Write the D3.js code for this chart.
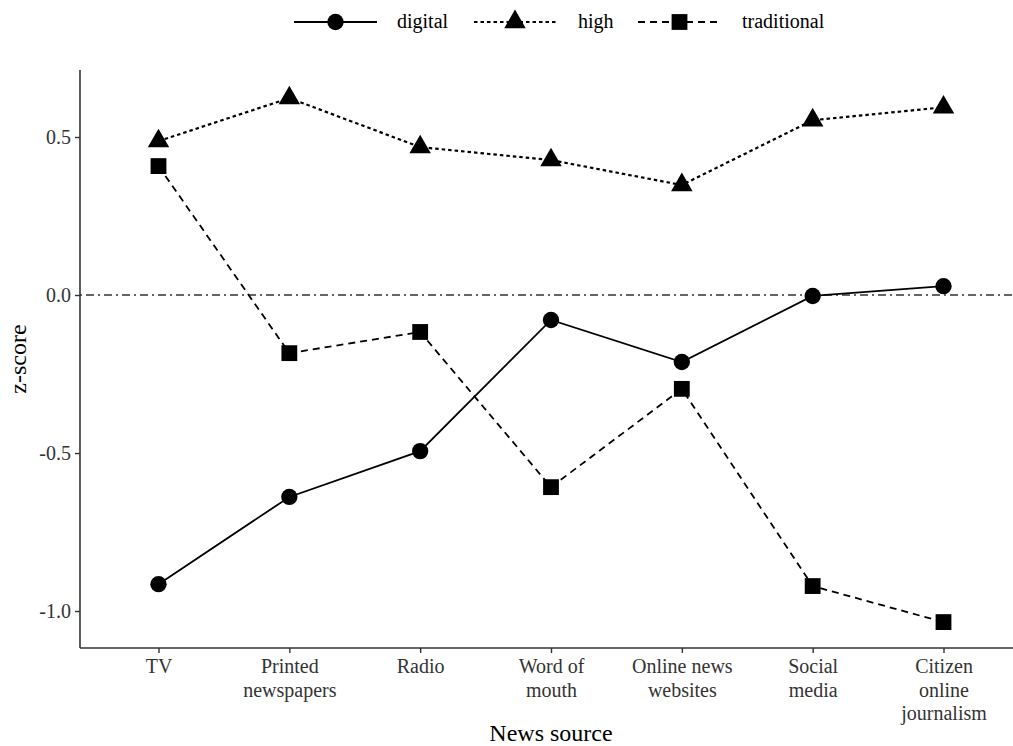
<!DOCTYPE html>
<html lang="en">
<head>
<meta charset="UTF-8">
<title>z-score by news source</title>
<script src="https://d3js.org/d3.v7.min.js"></script>
<style>
  * { margin: 0; padding: 0; }
  body { background: #fff; }
  text { font-family: "Liberation Serif", "DejaVu Serif", serif; }
</style>
</head>
<body>
<script>
var width = 1013, height = 746;

// data
var sources = ['TV', 'Printed newspapers', 'Radio', 'Word of mouth', 'Online news websites', 'Social media', 'Citizen online journalism'];
var sourceLabels = [['TV'], ['Printed', 'newspapers'], ['Radio'], ['Word of', 'mouth'], ['Online news', 'websites'], ['Social', 'media'], ['Citizen', 'online', 'journalism']];
var digital = [-0.915, -0.639, -0.494, -0.079, -0.212, -0.003, 0.028];
var high = [0.487, 0.623, 0.468, 0.427, 0.348, 0.553, 0.594];
var traditional = [0.408, -0.184, -0.117, -0.608, -0.297, -0.921, -1.035];
var yTicks = [-1.0, -0.5, 0.0, 0.5];

var series = [
  { name: 'digital', values: digital, shape: d3.symbolCircle, size: 210, dash: null, lw: 1.8 },
  { name: 'high', values: high, shape: d3.symbolTriangle, size: 200, dash: '3.5,3', lw: 2.2 },
  { name: 'traditional', values: traditional, shape: d3.symbolSquare, size: 250, dash: '7,5', lw: 1.8 }
];

var plotLeft = 80, plotTop = 70, plotBottom = 648, plotRight = 1022;

var svg = d3.select('body').append('svg')
  .attr('width', width)
  .attr('height', height);

var x = d3.scalePoint()
  .domain(sources)
  .range([plotLeft, plotRight])
  .padding(0.6);

var y = d3.scaleLinear()
  .domain([-1.117, 0.712])
  .range([plotBottom, plotTop]);

// zero reference line
svg.append('line')
  .attr('x1', plotLeft).attr('x2', width)
  .attr('y1', y(0)).attr('y2', y(0))
  .attr('stroke', '#333')
  .attr('stroke-width', 1.4)
  .attr('stroke-dasharray', '2,4,8,4');

// axes
var xAxis = svg.append('g')
  .attr('transform', 'translate(0,' + plotBottom + ')')
  .call(d3.axisBottom(x).tickSize(5).tickFormat(''));
var yAxis = svg.append('g')
  .attr('transform', 'translate(' + plotLeft + ',0)')
  .call(d3.axisLeft(y).tickValues(yTicks).tickSize(5)
    .tickFormat(function (d) { return d.toFixed(1); }));

[xAxis, yAxis].forEach(function (g) {
  g.select('.domain').attr('stroke', '#333').attr('stroke-width', 1.6);
  g.selectAll('.tick line').attr('stroke', '#333').attr('stroke-width', 1.4);
});
yAxis.select('.domain').attr('d', 'M0,' + plotTop + 'V' + plotBottom);
xAxis.select('.domain').attr('d', 'M' + plotLeft + ',0H' + width);

yAxis.selectAll('.tick text')
  .attr('x', -9)
  .attr('fill', '#333')
  .style('font-size', '20px')
  .style('font-family', '"Liberation Serif", serif');

// wrapped x labels
xAxis.selectAll('.tick').each(function (d, i) {
  var t = d3.select(this).append('text')
    .attr('fill', '#333')
    .attr('text-anchor', 'middle')
    .style('font-size', '20px');
  sourceLabels[i].forEach(function (s, j) {
    t.append('tspan').attr('x', 0).attr('y', 25 + j * 23.5).text(s);
  });
});

// axis titles
svg.append('text')
  .attr('x', (plotLeft + plotRight) / 2)
  .attr('y', 741)
  .attr('text-anchor', 'middle')
  .style('font-size', '24px')
  .text('News source');
svg.append('text')
  .attr('transform', 'translate(26,' + (plotTop + plotBottom) / 2 + ') rotate(-90)')
  .attr('text-anchor', 'middle')
  .style('font-size', '24px')
  .text('z-score');

// lines and points
var line = d3.line()
  .x(function (d, i) { return x(sources[i]); })
  .y(function (d) { return y(d); });

series.forEach(function (s) {
  svg.append('path')
    .datum(s.values)
    .attr('d', line)
    .attr('fill', 'none')
    .attr('stroke', '#000')
    .attr('stroke-width', s.lw)
    .attr('stroke-dasharray', s.dash);
  svg.selectAll('.pt-' + s.name)
    .data(s.values)
    .enter()
    .append('path')
    .attr('class', 'pt-' + s.name)
    .attr('d', d3.symbol().type(s.shape).size(s.size))
    .attr('transform', function (d, i) {
      return 'translate(' + x(sources[i]) + ',' + y(d) + ')';
    })
    .attr('fill', '#000');
});

// legend
var legendKeys = [
  { x1: 294, x2: 377, tx: 397 },
  { x1: 474, x2: 556, tx: 578 },
  { x1: 638, x2: 721, tx: 742 }
];
var legend = svg.append('g');
series.forEach(function (s, i) {
  var k = legendKeys[i];
  var cy = 22;
  legend.append('line')
    .attr('x1', k.x1).attr('x2', k.x2)
    .attr('y1', cy).attr('y2', cy)
    .attr('stroke', '#000')
    .attr('stroke-width', s.lw)
    .attr('stroke-dasharray', s.dash);
  legend.append('path')
    .attr('d', d3.symbol().type(s.shape).size(s.size)())
    .attr('transform', 'translate(' + (k.x1 + k.x2) / 2 + ',' + cy + ')')
    .attr('fill', '#000');
  legend.append('text')
    .attr('x', k.tx)
    .attr('y', cy + 6)
    .style('font-size', '20px')
    .text(s.name);
});
</script>
</body>
</html>
